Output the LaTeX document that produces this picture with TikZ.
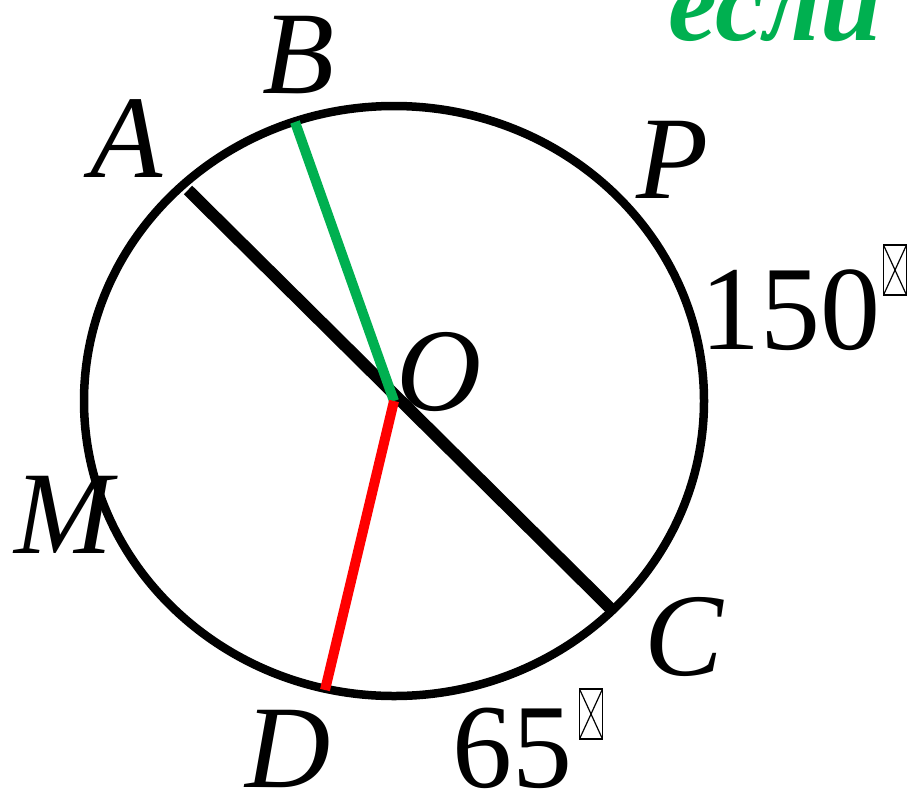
\documentclass[tikz,border=0pt]{standalone}
\usepackage{fontspec}
\setmainfont{Liberation Serif}
\usetikzlibrary{calc, positioning}
\definecolor{arcgreen}{RGB}{0,176,80}
\definecolor{arcred}{RGB}{255,0,0}

\tikzset{
    lbl/.style={font=\fontsize{118}{120}\selectfont\itshape, inner sep=0pt},
    num/.style={font=\fontsize{120}{122}\selectfont, inner sep=0pt},
    degbox/.style={draw, line width=1.4pt, inner sep=0pt, minimum width=23pt, minimum height=50pt,
        path picture={\draw[line width=1.2pt] (path picture bounding box.south west) -- (path picture bounding box.north east)
            (path picture bounding box.north west) -- (path picture bounding box.south east);}}
}

\begin{document}
\begin{tikzpicture}[x=1pt, y=-1pt]
    \useasboundingbox (0,0) rectangle (912,801);

    \pgfmathsetmacro{\rx}{310}
    \pgfmathsetmacro{\ry}{295}

    \coordinate (O) at (394, 401);
    \coordinate (A) at (188, 190);
    \coordinate (C) at (610, 608);
    \coordinate (B) at (295, 122);
    \coordinate (D) at (325, 690);

    \draw[line width=8.5pt] (O) ellipse [x radius=\rx pt, y radius=\ry pt];

    \draw[line width=12pt] (A) -- (C);
    \draw[line width=10pt, arcgreen] (O) -- (B);
    \draw[line width=10pt, arcred] (O) -- (D);

    \node[lbl] (lA) at (127, 139) {A};
    \node[lbl] (lB) at (299, 55) {B};
    \node[lbl] (lP) at (673, 160) {P};
    \node[lbl] (lO) at (439, 372) {O};
    \node[lbl] (lM) at (64, 515) {M};
    \node[lbl] (lC) at (684, 637) {C};
    \node[lbl] (lD) at (288, 749) {D};

    \node[num] (n150) at (790, 310) {150};
    \node[degbox] (deg150) at (895, 270) {};
    \node[num] (n65) at (512, 748) {65};
    \node[degbox] (deg65) at (591, 714) {};

    \node[font=\fontsize{110}{112}\selectfont\bfseries\itshape, text=arcgreen, inner sep=0pt, anchor=base west]
        (word) at (668, 40) {если};
\end{tikzpicture}
\end{document}
